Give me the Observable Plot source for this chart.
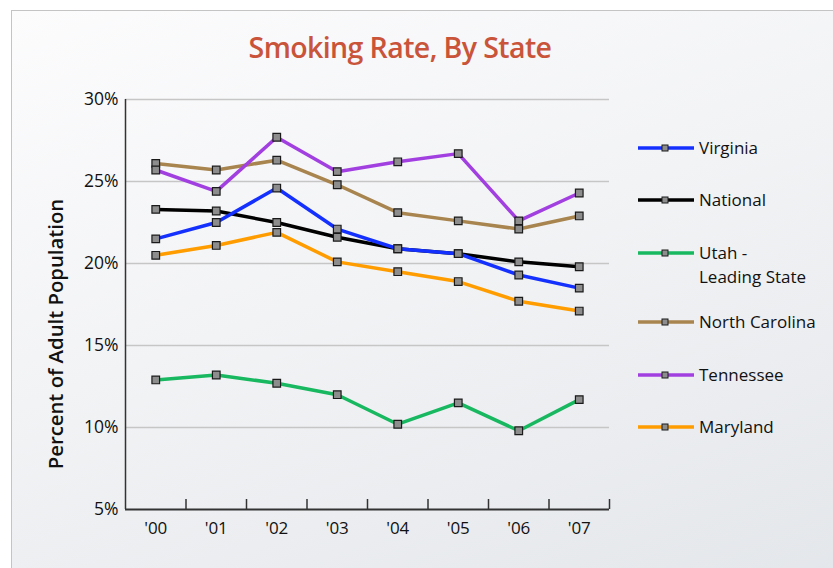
<!DOCTYPE html>
<html>
<head>
<meta charset="utf-8">
<script src="https://cdn.jsdelivr.net/npm/d3@7"></script>
<script src="https://cdn.jsdelivr.net/npm/@observablehq/plot@0.6"></script>
<style>
  html, body { margin: 0; padding: 0; background: #ffffff; overflow: hidden; }
  body { width: 833px; height: 568px; position: relative; font-family: "Open Sans", Lato, sans-serif; }
  #frame { position: absolute; left: 11px; top: 10px; width: 840px; height: 580px;
    border-left: 1px solid #c4c4c4; border-top: 1px solid #c4c4c4;
    background: linear-gradient(160deg, #fcfcfd 0%, #f2f3f5 45%, #e3e6ea 100%); }
  #title { position: absolute; left: 0; width: 800px; top: 28px; text-align: center;
    font-family: "Open Sans", sans-serif; font-size: 28.5px; font-weight: 600; color: #c9543a; letter-spacing: -0.6px; }
  #chart { position: absolute; left: 0; top: 0; }
  #ylabel { position: absolute; left: 55px; top: 334px; transform: translate(-50%, -50%) rotate(-90deg);
    white-space: nowrap; font-size: 20.3px; font-weight: 600; color: #111; }
  .leg { position: absolute; left: 638px; display: flex; align-items: flex-start; }
  .leg svg { flex: none; }
  .leg span { margin-left: 5px; font-size: 17px; color: #111; line-height: 24px; }
  #chart svg text { fill: #111; }
</style>
</head>
<body>
<div id="frame"></div>
<div id="title">Smoking Rate, By State</div>
<div id="chart"></div>
<div id="ylabel">Percent of Adult Population</div>
<div id="legend"></div>
<script>
const years = [2000, 2001, 2002, 2003, 2004, 2005, 2006, 2007];
const yearLabels = ["'00", "'01", "'02", "'03", "'04", "'05", "'06", "'07"];
const seriesNames = ["Virginia", "National", "Utah - Leading State", "North Carolina", "Tennessee", "Maryland"];
const seriesColors = ["#1430ff", "#000000", "#17b85f", "#a8844e", "#a23fe0", "#ff9d00"];
const virginia = [21.5, 22.5, 24.6, 22.1, 20.9, 20.6, 19.3, 18.5];
const national = [23.3, 23.2, 22.5, 21.6, 20.9, 20.6, 20.1, 19.8];
const utah = [12.9, 13.2, 12.7, 12.0, 10.2, 11.5, 9.8, 11.7];
const northCarolina = [26.1, 25.7, 26.3, 24.8, 23.1, 22.6, 22.1, 22.9];
const tennessee = [25.7, 24.4, 27.7, 25.6, 26.2, 26.7, 22.6, 24.3];
const maryland = [20.5, 21.1, 21.9, 20.1, 19.5, 18.9, 17.7, 17.1];
const yTicks = [5, 10, 15, 20, 25, 30];
// draw order (back to front)
const drawOrder = ["North Carolina", "Tennessee", "Maryland", "Utah - Leading State", "National", "Virginia"];

const valuesByName = {
  "Virginia": virginia, "National": national, "Utah - Leading State": utah,
  "North Carolina": northCarolina, "Tennessee": tennessee, "Maryland": maryland
};
const data = [];
for (const name of drawOrder) {
  valuesByName[name].forEach((v, i) => data.push({series: name, year: years[i], value: v}));
}
const bandEdges = years.map(y => y + 0.5);
const labelOf = new Map(years.map((y, i) => [y, yearLabels[i]]));

const plot = Plot.plot({
  width: 833,
  height: 568,
  marginLeft: 125,
  marginRight: 224,
  marginTop: 99,
  marginBottom: 59,
  style: {background: "transparent", fontFamily: "'Open Sans', sans-serif", fontSize: "17px", color: "#111"},
  x: {type: "linear", domain: [years[0] - 0.5, years[years.length - 1] + 0.5]},
  y: {domain: [5, 30]},
  color: {domain: seriesNames, range: seriesColors},
  marks: [
    Plot.ruleY(yTicks.slice(1), {stroke: "#c6c6c6", strokeWidth: 1.5}),
    Plot.axisY({ticks: yTicks, tickSize: 0, tickPadding: 7, tickFormat: d => d + "%", fontSize: 17.5, label: null}),
    Plot.axisX({ticks: years, tickSize: 0, tickPadding: 12, tickFormat: d => labelOf.get(d), fontSize: 17, label: null}),
    Plot.axisX({ticks: bandEdges, tickSize: -10, tickFormat: () => "", stroke: "#333", strokeWidth: 1.5, label: null}),
    Plot.ruleX([years[0] - 0.5], {y1: 5, y2: 30, stroke: "#333", strokeWidth: 1.5}),
    Plot.ruleY([5], {stroke: "#333", strokeWidth: 2}),
    Plot.line(data, {x: "year", y: "value", z: "series", stroke: "series", strokeWidth: 3.5, strokeLinejoin: "miter"}),
    Plot.dot(data, {x: "year", y: "value", symbol: "square", r: 4.3, fill: "#8d8d8d", stroke: "#1a1a1a", strokeWidth: 1.2})
  ]
});
document.getElementById("chart").appendChild(plot);

// legend
const legendTops = [136, 188, 241, 310, 363, 415];
const legend = document.getElementById("legend");
seriesNames.forEach((name, i) => {
  const row = document.createElement("div");
  row.className = "leg";
  row.style.top = legendTops[i] + "px";
  const svg = d3.create("svg").attr("width", 56).attr("height", 24);
  svg.append("line").attr("x1", 0).attr("x2", 56).attr("y1", 12).attr("y2", 12)
    .attr("stroke", seriesColors[i]).attr("stroke-width", 3.5);
  svg.append("rect").attr("x", 24).attr("y", 9).attr("width", 6).attr("height", 6)
    .attr("fill", "#8d8d8d").attr("stroke", "#1a1a1a").attr("stroke-width", 1);
  row.appendChild(svg.node());
  const span = document.createElement("span");
  if (name === "Utah - Leading State") {
    span.innerHTML = "Utah -<br>Leading State";
  } else {
    span.textContent = name;
  }
  row.appendChild(span);
  legend.appendChild(row);
});
</script>
</body>
</html>
